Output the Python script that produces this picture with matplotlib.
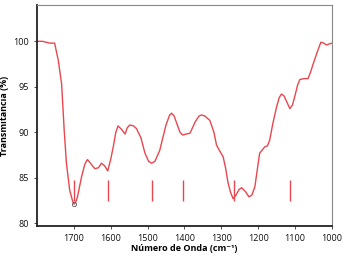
import matplotlib
matplotlib.use("Agg")
import matplotlib.pyplot as plt

# espectro FTIR
wavenumber = [1800, 1785, 1765, 1752, 1742, 1733, 1726, 1720, 1711, 1703, 1699, 1694, 1690,
              1679, 1670, 1663, 1655, 1643, 1633, 1625, 1616, 1608, 1600, 1593, 1586, 1580,
              1570, 1561, 1555, 1548, 1538, 1530, 1518, 1507, 1497, 1489, 1480, 1467, 1450,
              1440, 1435, 1428, 1421, 1412, 1405, 1395, 1385, 1370, 1360, 1354, 1345, 1331,
              1320, 1313, 1305, 1295, 1288, 1282, 1275, 1268, 1260, 1252, 1245, 1235, 1225,
              1217, 1209, 1202, 1196, 1182, 1175, 1169, 1160, 1150, 1143, 1137, 1130, 1122,
              1114, 1107, 1101, 1093, 1087, 1075, 1065, 1058, 1051, 1040, 1030, 1022, 1015,
              1008, 1000]
transmittance = [100.0, 100.0, 99.8, 99.8, 97.9, 95.3, 90.2, 86.6, 83.6, 82.4, 82.1, 82.4, 82.9,
                 85.1, 86.5, 87.0, 86.6, 86.0, 86.1, 86.6, 86.3, 85.75, 87.0, 88.4, 90.0, 90.7,
                 90.3, 89.8, 90.5, 90.8, 90.7, 90.4, 89.4, 87.7, 86.8, 86.6, 86.8, 88.0, 90.8,
                 91.9, 92.1, 91.8, 91.0, 90.0, 89.7, 89.8, 89.9, 91.2, 91.8, 91.9, 91.8, 91.3,
                 90.0, 88.6, 88.0, 87.3, 86.0, 84.5, 83.4, 82.7, 83.1, 83.7, 83.9, 83.5, 82.9,
                 83.1, 84.0, 86.0, 87.7, 88.4, 88.5, 89.1, 91.0, 92.8, 93.8, 94.2, 94.0, 93.3,
                 92.6, 93.0, 93.9, 95.2, 95.8, 95.9, 95.9, 96.6, 97.5, 98.8, 99.9, 99.8, 99.6,
                 99.7, 99.8]

# bandas marcadas
band_positions = [1700, 1608, 1489, 1404, 1266, 1114]
band_top = 84.7
band_bottom = 82.4

red = "#e8474f"
fonts = ["Open Sans", "DejaVu Sans"]

fig = plt.figure(figsize=(3.55, 2.6), dpi=100)
ax = fig.add_axes([0.104, 0.131, 0.831, 0.85])

ax.plot(wavenumber, transmittance, color=red, lw=1.0)
ax.plot(1700, 82.1, marker="o", ms=3, mfc="none", mec="#555555", mew=0.6)
ax.vlines(band_positions, band_bottom, band_top, color=red, lw=1.0)

ax.set_xlim(1800, 1000)
ax.set_ylim(79.7, 104)
ax.set_xticks([1700, 1600, 1500, 1400, 1300, 1200, 1100, 1000])
ax.set_yticks([80, 85, 90, 95, 100])

ax.tick_params(labelsize=6.5, length=2, width=0.6, colors="#333333", labelcolor="#111111")
for lab in ax.get_xticklabels() + ax.get_yticklabels():
    lab.set_family(fonts)

ax.spines["left"].set_color("#222222")
ax.spines["bottom"].set_color("#222222")
ax.spines["left"].set_linewidth(1.3)
ax.spines["bottom"].set_linewidth(1.3)
ax.spines["top"].set_color("#888888")
ax.spines["right"].set_color("#888888")

ax.set_xlabel("Número de Onda (cm⁻¹)", fontsize=6.5, fontweight="bold",
              family=fonts, labelpad=1)
ax.set_ylabel("Transmitancia (%)", fontsize=6.5, fontweight="bold",
              family=fonts, labelpad=3)

fig.savefig("out.png", dpi=100)
